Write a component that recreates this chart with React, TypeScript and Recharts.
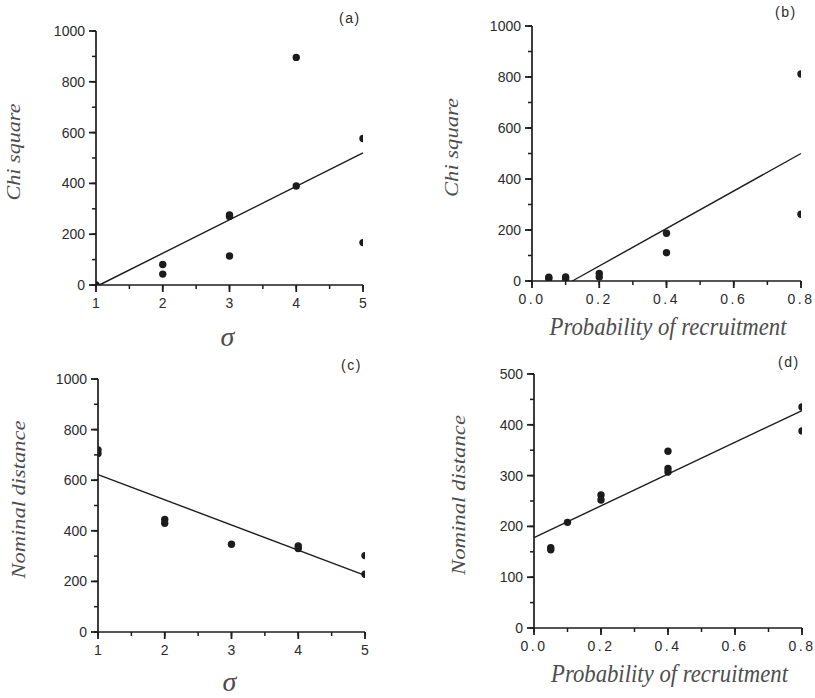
import { ScatterChart, Scatter, XAxis, YAxis, ReferenceLine } from 'recharts';

// tick positions (minor + labelled)
const sigmaTicks = [1, 1.5, 2, 2.5, 3, 3.5, 4, 4.5, 5];
const sigmaLabels = [1, 2, 3, 4, 5];
const probTicks = [0, 0.1, 0.2, 0.3, 0.4, 0.5, 0.6, 0.7, 0.8];
const probLabels = [0, 0.2, 0.4, 0.6, 0.8];
const thousandTicks = [0, 100, 200, 300, 400, 500, 600, 700, 800, 900, 1000];
const thousandLabels = [0, 200, 400, 600, 800, 1000];
const fiveHundredTicks = [0, 50, 100, 150, 200, 250, 300, 350, 400, 450, 500];
const fiveHundredLabels = [0, 100, 200, 300, 400, 500];

// (a) chi square vs sigma
const chiBySigma = [
  { x: 1, y: 0 },
  { x: 2, y: 81 },
  { x: 2, y: 43 },
  { x: 3, y: 276 },
  { x: 3, y: 270 },
  { x: 3, y: 114 },
  { x: 4, y: 896 },
  { x: 4, y: 390 },
  { x: 5, y: 577 },
  { x: 5, y: 167 },
];
const chiBySigmaFit = [
  { x: 1.05, y: 0 },
  { x: 5, y: 520 },
];

// (b) chi square vs probability of recruitment
const chiByProb = [
  { x: 0.05, y: 15 },
  { x: 0.05, y: 10 },
  { x: 0.1, y: 16 },
  { x: 0.1, y: 9 },
  { x: 0.2, y: 30 },
  { x: 0.2, y: 16 },
  { x: 0.4, y: 187 },
  { x: 0.4, y: 111 },
  { x: 0.8, y: 812 },
  { x: 0.8, y: 262 },
];
const chiByProbFit = [
  { x: 0.12, y: 0 },
  { x: 0.8, y: 500 },
];

// (c) nominal distance vs sigma
const distBySigma = [
  { x: 1, y: 720 },
  { x: 1, y: 706 },
  { x: 2, y: 445 },
  { x: 2, y: 430 },
  { x: 3, y: 347 },
  { x: 4, y: 340 },
  { x: 4, y: 330 },
  { x: 5, y: 302 },
  { x: 5, y: 228 },
];
const distBySigmaFit = [
  { x: 1, y: 622 },
  { x: 5, y: 224 },
];

// (d) nominal distance vs probability of recruitment
const distByProb = [
  { x: 0.05, y: 158 },
  { x: 0.05, y: 154 },
  { x: 0.1, y: 208 },
  { x: 0.2, y: 262 },
  { x: 0.2, y: 252 },
  { x: 0.4, y: 348 },
  { x: 0.4, y: 314 },
  { x: 0.4, y: 307 },
  { x: 0.8, y: 435 },
  { x: 0.8, y: 388 },
];
const distByProbFit = [
  { x: 0, y: 178 },
  { x: 0.8, y: 428 },
];

const INK = '#1c1c1c';
const TICK_TEXT = '#2b2b2b';
const TITLE = '#4d4d4d';
const SANS = '"Liberation Sans", Arial, sans-serif';
const SERIF = '"Liberation Serif", "Times New Roman", serif';
const TICK_SIZE = 4;
const TICK_GAP = 2;

const isMajor = (labels: number[], v: number) => labels.some((l) => Math.abs(l - v) < 1e-6);

// labelled ticks get a longer mark than the minor ones recharts draws
function BottomTick(props: any) {
  const { x, y, payload, labels, fmt, spacing } = props;
  const axisY = y - TICK_SIZE - TICK_GAP;
  if (!isMajor(labels, payload.value)) return <g />;
  return (
    <g>
      <line x1={x} x2={x} y1={axisY} y2={axisY + 7} stroke={INK} strokeWidth={1.8} />
      <text
        x={x}
        y={axisY + 23}
        textAnchor="middle"
        fontFamily={SANS}
        fontSize={14}
        letterSpacing={spacing}
        fill={TICK_TEXT}
      >
        {fmt(payload.value)}
      </text>
    </g>
  );
}

function LeftTick(props: any) {
  const { x, y, payload, labels } = props;
  const axisX = x + TICK_SIZE + TICK_GAP;
  if (!isMajor(labels, payload.value)) return <g />;
  return (
    <g>
      <line x1={axisX} x2={axisX - 7} y1={y} y2={y} stroke={INK} strokeWidth={1.8} />
      <text
        x={axisX - 11}
        y={y}
        dy="0.36em"
        textAnchor="end"
        fontFamily={SANS}
        fontSize={14}
        fill={TICK_TEXT}
      >
        {payload.value}
      </text>
    </g>
  );
}

const Dot = (p: any) => <circle cx={p.cx} cy={p.cy} r={3.7} fill={INK} />;

interface PanelProps {
  left: number;
  top: number;
  width: number;
  height: number;
  margin: { top: number; right: number; bottom: number; left: number };
  points: { x: number; y: number }[];
  fit: { x: number; y: number }[];
  xDomain: [number, number];
  xTicks: number[];
  xLabels: number[];
  xFmt: (v: number) => string;
  xSpacing: number;
  yDomain: [number, number];
  yTicks: number[];
  yLabels: number[];
  yTitle: string;
  yTitleX: number;
  yTitleLen: number;
  xTitle: string;
  xTitleY: number;
  xTitleDx: number;
  xTitleSigma: boolean;
  tag: string;
  tagX: number;
  tagY: number;
}

function Panel(p: PanelProps) {
  const yTitle = (lp: any) => {
    const vb = lp.viewBox ?? lp;
    const cx = vb.x + p.yTitleX;
    const cy = vb.y + vb.height / 2 - 6;
    return (
      <text
        transform={`translate(${cx}, ${cy}) rotate(-90)`}
        textAnchor="middle"
        fontFamily={SERIF}
        fontStyle="italic"
        fontSize={19}
        textLength={p.yTitleLen}
        lengthAdjust="spacingAndGlyphs"
        fill={TITLE}
      >
        {p.yTitle}
      </text>
    );
  };
  const xTitle = (lp: any) => {
    const vb = lp.viewBox ?? lp;
    const cx = vb.x + vb.width / 2 + p.xTitleDx;
    const by = vb.y + p.xTitleY;
    return p.xTitleSigma ? (
      <text x={cx} y={by} textAnchor="middle" fontFamily={SERIF} fontStyle="italic" fontSize={28} fill={TITLE}>
        {p.xTitle}
      </text>
    ) : (
      <text
        x={cx}
        y={by}
        textAnchor="middle"
        fontFamily={SERIF}
        fontStyle="italic"
        fontSize={25}
        textLength={237}
        lengthAdjust="spacingAndGlyphs"
        fill={TITLE}
      >
        {p.xTitle}
      </text>
    );
  };

  return (
    <div style={{ position: 'absolute', left: p.left, top: p.top, width: p.width, height: p.height }}>
      <ScatterChart width={p.width} height={p.height} margin={p.margin}>
        <XAxis
          type="number"
          dataKey="x"
          domain={p.xDomain}
          ticks={p.xTicks}
          interval={0}
          height={30}
          tickSize={TICK_SIZE}
          tickMargin={TICK_GAP}
          tickLine={{ stroke: INK, strokeWidth: 1.5 }}
          axisLine={{ stroke: INK, strokeWidth: 1.7 }}
          tick={<BottomTick labels={p.xLabels} fmt={p.xFmt} spacing={p.xSpacing} />}
          label={xTitle}
          allowDataOverflow
        />
        <YAxis
          type="number"
          dataKey="y"
          domain={p.yDomain}
          ticks={p.yTicks}
          interval={0}
          width={60}
          tickSize={TICK_SIZE}
          tickMargin={TICK_GAP}
          tickLine={{ stroke: INK, strokeWidth: 1.5 }}
          axisLine={{ stroke: INK, strokeWidth: 1.7 }}
          tick={<LeftTick labels={p.yLabels} />}
          label={yTitle}
          allowDataOverflow
        />
        <ReferenceLine segment={p.fit} stroke={INK} strokeWidth={1.4} ifOverflow="visible" />
        <Scatter data={p.points} shape={Dot} isAnimationActive={false} />
      </ScatterChart>
      <div
        style={{
          position: 'absolute',
          left: p.tagX,
          top: p.tagY,
          fontFamily: SANS,
          fontSize: 14,
          letterSpacing: 1.5,
          lineHeight: 1,
          color: TICK_TEXT,
        }}
      >
        {p.tag}
      </div>
    </div>
  );
}

const fmtInt = (v: number) => String(v);
const fmtDec = (v: number) => v.toFixed(1);

export default function App() {
  return (
    <div style={{ position: 'absolute', left: 0, top: 0, width: 815, height: 698, background: '#fff' }}>
      <Panel
        left={0}
        top={0}
        width={400}
        height={352}
        margin={{ top: 31, right: 37, bottom: 37, left: 36 }}
        points={chiBySigma}
        fit={chiBySigmaFit}
        xDomain={[1, 5]}
        xTicks={sigmaTicks}
        xLabels={sigmaLabels}
        xFmt={fmtInt}
        xSpacing={0}
        yDomain={[0, 1000]}
        yTicks={thousandTicks}
        yLabels={thousandLabels}
        yTitle="Chi square"
        yTitleX={-16.5}
        yTitleLen={97}
        xTitle="σ"
        xTitleY={61}
        xTitleDx={-2}
        xTitleSigma
        tag="(a)"
        tagX={339}
        tagY={11}
      />
      <Panel
        left={408}
        top={0}
        width={407}
        height={345}
        margin={{ top: 26, right: 14, bottom: 34, left: 64 }}
        points={chiByProb}
        fit={chiByProbFit}
        xDomain={[0, 0.8]}
        xTicks={probTicks}
        xLabels={probLabels}
        xFmt={fmtDec}
        xSpacing={2.5}
        yDomain={[0, 1000]}
        yTicks={thousandTicks}
        yLabels={thousandLabels}
        yTitle="Chi square"
        yTitleX={-14}
        yTitleLen={99}
        xTitle="Probability of recruitment"
        xTitleY={54}
        xTitleDx={1.5}
        xTitleSigma={false}
        tag="(b)"
        tagX={367}
        tagY={5}
      />
      <Panel
        left={0}
        top={352}
        width={400}
        height={346}
        margin={{ top: 27, right: 35, bottom: 36, left: 38 }}
        points={distBySigma}
        fit={distBySigmaFit}
        xDomain={[1, 5]}
        xTicks={sigmaTicks}
        xLabels={sigmaLabels}
        xFmt={fmtInt}
        xSpacing={0}
        yDomain={[0, 1000]}
        yTicks={thousandTicks}
        yLabels={thousandLabels}
        yTitle="Nominal distance"
        yTitleX={-13.5}
        yTitleLen={158}
        xTitle="σ"
        xTitleY={59}
        xTitleDx={-2}
        xTitleSigma
        tag="(c)"
        tagX={341}
        tagY={6}
      />
      <Panel
        left={408}
        top={345}
        width={407}
        height={353}
        margin={{ top: 29, right: 13, bottom: 40, left: 66 }}
        points={distByProb}
        fit={distByProbFit}
        xDomain={[0, 0.8]}
        xTicks={probTicks}
        xLabels={probLabels}
        xFmt={fmtDec}
        xSpacing={2.5}
        yDomain={[0, 500]}
        yTicks={fiveHundredTicks}
        yLabels={fiveHundredLabels}
        yTitle="Nominal distance"
        yTitleX={-9.3}
        yTitleLen={160}
        xTitle="Probability of recruitment"
        xTitleY={54}
        xTitleDx={1.5}
        xTitleSigma={false}
        tag="(d)"
        tagX={370}
        tagY={10}
      />
    </div>
  );
}
